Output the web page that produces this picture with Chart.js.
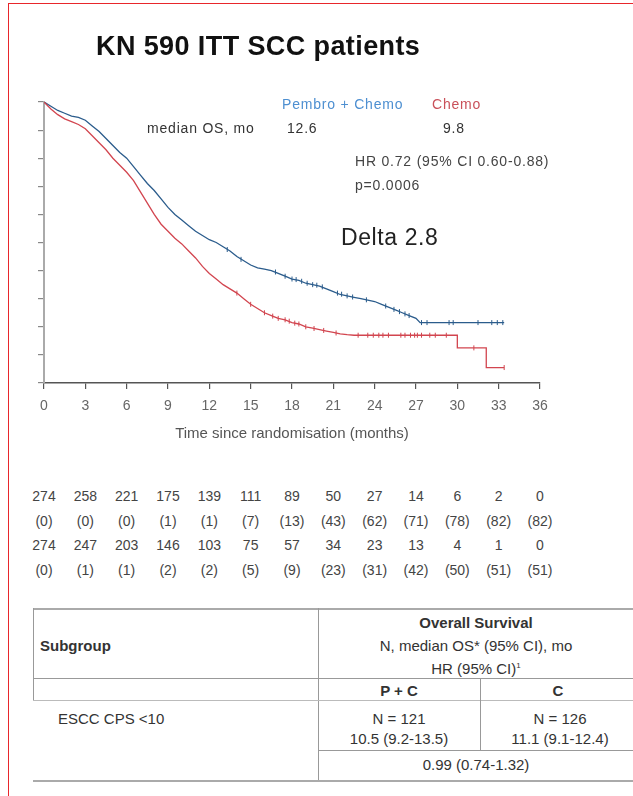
<!DOCTYPE html>
<html><head><meta charset="utf-8">
<script src="https://cdn.jsdelivr.net/npm/chart.js@4.4.1/dist/chart.umd.min.js"></script>
<style>
html,body{margin:0;padding:0;background:#fff;}
body{width:633px;height:796px;position:relative;overflow:hidden;font-family:"Liberation Sans",Arial,sans-serif;}
.t{position:absolute;white-space:nowrap;transform:translateY(-50%);line-height:1;}
.c{transform:translate(-50%,-50%);}
.n{font-family:"Liberation Sans",Arial,sans-serif;font-size:14px;letter-spacing:0.8px;}
.tb{font-size:15px;color:#333;}
#wrap{position:absolute;left:0;top:0;width:633px;height:460px;}
.hl{position:absolute;height:0;border-top:1px solid #999;}
.vl{position:absolute;width:0;border-left:1px solid #999;}
</style></head><body>
<div style="position:absolute;left:8px;top:3px;width:625px;height:0;border-top:1.5px solid #e8262b;"></div>
<div style="position:absolute;left:8px;top:3px;width:0;height:793px;border-left:1.5px solid #e8262b;"></div>

<div id="wrap"><canvas id="km" width="633" height="460"></canvas></div>

<div class="t" style="left:96px;top:46px;font-size:27px;letter-spacing:0.4px;font-weight:bold;color:#111;">KN 590 ITT SCC patients</div>
<div class="t n" style="left:282px;top:104px;color:#4d8fd1;">Pembro + Chemo</div>
<div class="t n" style="left:432px;top:104px;color:#c9515a;">Chemo</div>
<div class="t n" style="left:147px;top:128px;color:#333;">median OS, mo</div>
<div class="t n" style="left:287px;top:128px;color:#333;">12.6</div>
<div class="t n" style="left:443px;top:128px;color:#333;">9.8</div>
<div class="t n" style="left:355px;top:161px;color:#444;">HR 0.72 (95% CI 0.60-0.88)</div>
<div class="t n" style="left:355px;top:185px;color:#444;">p=0.0006</div>
<div class="t" style="left:341px;top:237px;font-size:23px;letter-spacing:0.6px;color:#222;">Delta 2.8</div>

<div id="risk"></div>

<!-- subgroup table -->
<div class="hl" style="left:33px;top:608px;width:600px;border-top:2px solid #aaa;"></div>
<div class="vl" style="left:33px;top:608px;height:92px;"></div>
<div class="vl" style="left:318px;top:608px;height:172px;"></div>
<div class="hl" style="left:33px;top:678px;width:600px;"></div>
<div class="hl" style="left:33px;top:700px;width:600px;border-top:1px solid #bbb;"></div>
<div class="vl" style="left:480px;top:678px;height:72px;"></div>
<div class="hl" style="left:318px;top:750px;width:315px;"></div>
<div class="hl" style="left:33px;top:780px;width:600px;border-top:2px solid #aaa;"></div>

<div class="t c tb" style="left:476px;top:622px;font-weight:bold;">Overall Survival</div>
<div class="t c tb" style="left:476px;top:645px;">N, median OS* (95% CI), mo</div>
<div class="t c tb" style="left:476px;top:668px;">HR (95% CI)<sup style="font-size:8px;">1</sup></div>
<div class="t tb" style="left:40px;top:645px;font-weight:bold;">Subgroup</div>
<div class="t c tb" style="left:399px;top:690px;font-weight:bold;">P + C</div>
<div class="t c tb" style="left:558px;top:690px;font-weight:bold;">C</div>
<div class="t tb" style="left:58px;top:718px;">ESCC CPS &lt;10</div>
<div class="t c tb" style="left:399px;top:718px;">N = 121</div>
<div class="t c tb" style="left:399px;top:738px;">10.5 (9.2-13.5)</div>
<div class="t c tb" style="left:560px;top:718px;">N = 126</div>
<div class="t c tb" style="left:560px;top:738px;">11.1 (9.1-12.4)</div>
<div class="t c tb" style="left:476px;top:764px;">0.99 (0.74-1.32)</div>

<script>
// ---- data ----
const xTickMonths = [0,3,6,9,12,15,18,21,24,27,30,33,36];

const kmTimePembro = [0,0.5,1,1.5,2,2.5,3,3.5,4,4.5,5,5.5,6,6.5,7,7.5,8,8.5,9,9.5,10,10.5,11,11.5,12,12.5,13,13.5,14,14.5,15,15.5,16,16.5,17,17.5,18,18.5,19,19.5,20,20.5,21,21.5,22,22.5,23,23.5,24,24.5,25,25.5,26,26.5,27,27.3,33.4];
const kmSurvPembro = [1.0,0.985,0.97,0.96,0.95,0.945,0.935,0.915,0.895,0.87,0.845,0.82,0.80,0.77,0.74,0.71,0.685,0.655,0.625,0.60,0.58,0.56,0.54,0.525,0.51,0.50,0.485,0.47,0.45,0.435,0.42,0.41,0.405,0.40,0.39,0.38,0.37,0.365,0.355,0.35,0.345,0.335,0.325,0.315,0.31,0.305,0.30,0.295,0.29,0.28,0.27,0.26,0.25,0.24,0.23,0.215,0.215];

const kmTimeChemo = [0,0.5,1,1.5,2,2.5,3,3.5,4,4.5,5,5.5,6,6.5,7,7.5,8,8.5,9,9.5,10,10.5,11,11.5,12,12.5,13,13.5,14,14.5,15,15.5,16,16.5,17,17.5,18,18.5,19,19.5,20,20.5,21,21.5,22,22.5,30.0,30.0,32.1,32.1,33.4];
const kmSurvChemo = [1.0,0.975,0.955,0.94,0.93,0.92,0.905,0.88,0.855,0.83,0.80,0.775,0.75,0.72,0.68,0.64,0.60,0.565,0.54,0.515,0.495,0.47,0.445,0.415,0.39,0.37,0.35,0.335,0.32,0.30,0.28,0.265,0.25,0.24,0.23,0.225,0.215,0.21,0.20,0.195,0.19,0.185,0.18,0.175,0.172,0.17,0.17,0.125,0.125,0.055,0.055];

const censorTimePembro = [13.3,14.3,16.8,17.5,18.0,18.3,18.7,19.1,19.5,19.8,20.2,21.3,21.6,22.0,22.4,23.4,24.8,25.4,25.8,26.2,26.5,27.4,27.8,29.4,29.7,31.5,32.5,32.9,33.3];
const censorSurvPembro = [0.475,0.44,0.395,0.38,0.37,0.368,0.362,0.355,0.35,0.348,0.342,0.32,0.316,0.31,0.306,0.296,0.274,0.262,0.254,0.246,0.24,0.215,0.215,0.215,0.215,0.215,0.215,0.215,0.215];

const censorTimeChemo = [14.0,15.0,16.0,16.6,17.0,17.5,17.8,18.2,18.5,19.0,19.6,20.3,21.2,22.8,23.5,23.9,24.3,24.6,25.0,25.9,26.2,26.6,26.9,27.1,27.4,28.0,28.4,29.2,31.2,33.4];
const censorSurvChemo = [0.32,0.28,0.25,0.238,0.23,0.225,0.22,0.213,0.21,0.20,0.194,0.187,0.178,0.17,0.17,0.17,0.17,0.17,0.17,0.17,0.17,0.17,0.17,0.17,0.17,0.17,0.17,0.17,0.125,0.055];

const atRiskPembro = ['274','258','221','175','139','111','89','50','27','14','6','2','0'];
const censoredPembro = ['(0)','(0)','(0)','(1)','(1)','(7)','(13)','(43)','(62)','(71)','(78)','(82)','(82)'];
const atRiskChemo = ['274','247','203','146','103','75','57','34','23','13','4','1','0'];
const censoredChemo = ['(0)','(1)','(1)','(2)','(2)','(5)','(9)','(23)','(31)','(42)','(50)','(51)','(51)'];

const BLUE = '#2b5c8c', RED = '#d2454f';
const FONT = '"Liberation Sans",Arial,sans-serif';

const pts = (t, s) => t.map((v, i) => ({x: v, y: s[i]}));

const chart = new Chart(document.getElementById('km'), {
  type: 'line',
  data: {
    datasets: [
      {data: pts(kmTimeChemo, kmSurvChemo), borderColor: RED, borderWidth: 1.3, pointRadius: 0, tension: 0, fill: false},
      {data: pts(kmTimePembro, kmSurvPembro), borderColor: BLUE, borderWidth: 1.3, pointRadius: 0, tension: 0, fill: false},
      {type: 'scatter', data: pts(censorTimeChemo, censorSurvChemo), pointStyle: 'line', rotation: 90, radius: 2.5, borderColor: RED, borderWidth: 1, showLine: false},
      {type: 'scatter', data: pts(censorTimePembro, censorSurvPembro), pointStyle: 'line', rotation: 90, radius: 2.5, borderColor: BLUE, borderWidth: 1, showLine: false}
    ]
  },
  options: {
    responsive: false,
    animation: false,
    events: [],
    layout: {padding: {left: 0, top: 102, right: 93, bottom: 17}},
    plugins: {legend: {display: false}, tooltip: {enabled: false}, title: {display: false}},
    scales: {
      x: {
        type: 'linear', min: 0, max: 36,
        afterBuildTicks: s => { s.ticks = xTickMonths.map(v => ({value: v})); },
        ticks: {color: '#666', font: {size: 14, family: FONT}, padding: 9, maxRotation: 0},
        grid: {drawOnChartArea: false, tickLength: 6, color: '#555', lineWidth: 1.2},
        border: {color: '#555', width: 1.5},
        title: {display: true, text: 'Time since randomisation (months)', color: '#555', font: {size: 15, family: FONT}, padding: {top: 2, bottom: 0}},
        afterFit: s => { s.height = 60; }
      },
      y: {
        min: 0, max: 1,
        ticks: {stepSize: 0.1, callback: () => ''},
        grid: {drawOnChartArea: false, tickLength: 6, color: '#888', lineWidth: 1.2},
        border: {color: '#aaa', width: 2},
        afterFit: s => { s.width = 44; }
      }
    }
  }
});

// number-at-risk table placed through the chart's x scale
const riskRows = [[atRiskPembro, 496], [censoredPembro, 521], [atRiskChemo, 545], [censoredChemo, 570]];
const riskDiv = document.getElementById('risk');
riskRows.forEach(([arr, y]) => {
  arr.forEach((txt, i) => {
    const d = document.createElement('div');
    d.className = 't c';
    d.style.left = chart.scales.x.getPixelForValue(xTickMonths[i]) + 'px';
    d.style.top = y + 'px';
    d.style.fontSize = '14px';
    d.style.color = '#444';
    d.textContent = txt;
    riskDiv.appendChild(d);
  });
});
</script>
</body></html>
